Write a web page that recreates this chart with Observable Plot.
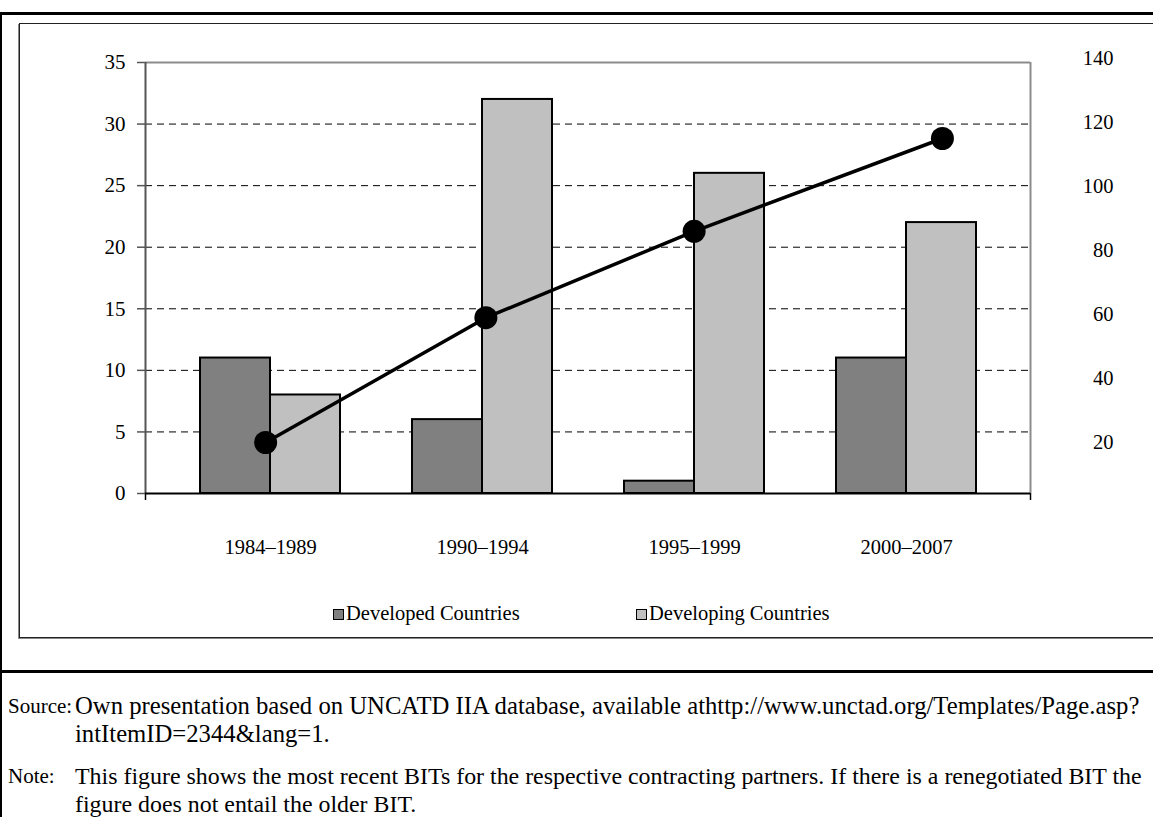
<!DOCTYPE html>
<html>
<head>
<meta charset="utf-8">
<script src="https://cdn.jsdelivr.net/npm/d3@7"></script>
<script src="https://cdn.jsdelivr.net/npm/@observablehq/plot@0.6"></script>
<style>
  body { margin: 0; background: #fff; }
  #page { position: relative; width: 1153px; height: 817px; overflow: hidden;
          font-family: "Liberation Serif", "Times New Roman", serif; color: #000; background: #fff; }
  .layer { position: absolute; left: 0; top: 0; }
  .hline { position: absolute; left: 0; width: 1153px; background: #000; }
  #vline { position: absolute; left: 0; top: 12px; width: 2px; height: 805px; background: #000; }
  #chartbox { position: absolute; left: 19px; top: 23px; width: 1200px; height: 613px;
              border: 1px solid #222; box-shadow: -1px 1px 0 #888; }
  .leg { position: absolute; top: 603px; font-size: 20.5px; line-height: 20px; white-space: nowrap; }
  .sw { display: inline-block; width: 9px; height: 9px; border: 1.5px solid #000; margin-right: 2px; vertical-align: 0px; }
  .note { position: absolute; left: 8px; white-space: nowrap; }
  .note .lab { display: inline-block; vertical-align: top; width: 67px; font-size: 21px; line-height: 27px; padding-top: 1px; }
  .note .body { display: inline-block; vertical-align: top; line-height: 28px; }
</style>
</head>
<body>
<div id="page">
  <div class="hline" style="top:12px;height:2.5px"></div>
  <div id="vline"></div>
  <div id="chartbox"></div>
  <div class="hline" style="top:670px;height:2.5px"></div>
  <div id="layers"></div>
  <div id="legend"></div>
  <div id="notes"></div>
</div>
<script>
// ---------------- data ----------------
const periods = ["1984–1989", "1990–1994", "1995–1999", "2000–2007"];
const seriesNames = ["Developed Countries", "Developing Countries"];
const seriesColors = ["#808080", "#c0c0c0"];
const developed = [11, 6, 1, 11];
const developing = [8, 32, 26, 22];
// line series (right axis) and its horizontal positions on a hidden year axis
const lineValues = [20, 59, 86, 115];
const lineYears = [1986.5, 1992, 1997.2, 2003.4];
const leftTicks = [0, 5, 10, 15, 20, 25, 30, 35];
const gridTicks = [5, 10, 15, 20, 25, 30];
const rightTicks = [20, 40, 60, 80, 100, 120, 140];
const sourceLines = ["Own presentation based on UNCATD IIA database, available athttp://www.unctad.org/Templates/Page.asp?",
                     "intItemID=2344&lang=1."];
const noteLines = ["This figure shows the most recent BITs for the respective contracting partners. If there is a renegotiated BIT the",
                   "figure does not entail the older BIT."];

// ---------------- layout ----------------
const W = 1153, H = 660;
const ML = 145, MR = 123, MT = 62, MB = 167;
const leftDomain = [0, 35];
const rightDomain = [0, 140];
const rightRange = [506, 58];
const lineXDomain = [1983.5, 2005.6];
const font = {fontFamily: "Liberation Serif, Times New Roman, serif", fontSize: "20.5px", background: "transparent", overflow: "visible", color: "#000"};
const dims = {width: W, height: H, marginLeft: ML, marginRight: MR, marginTop: MT, marginBottom: MB, style: font};

const barRows = periods.flatMap((p, i) => [
  {period: p, series: seriesNames[0], value: developed[i]},
  {period: p, series: seriesNames[1], value: developing[i]}
]);
const lineRows = lineValues.map((v, i) => ({x: lineYears[i], v}));

// layer 0: grid, frame, left axis
const back = Plot.plot({
  ...dims,
  x: {type: "linear", domain: lineXDomain, axis: null},
  y: {domain: leftDomain, axis: null},
  marks: [
    Plot.ruleY(gridTicks, {stroke: "#000", strokeWidth: 1, strokeDasharray: "7,5"}),
    Plot.ruleY([leftDomain[1]], {stroke: "#8c8c8c", strokeWidth: 2}),
    Plot.ruleX([lineXDomain[1]], {stroke: "#8c8c8c", strokeWidth: 2}),
    Plot.ruleX([lineXDomain[0]], {stroke: "#555", strokeWidth: 2}),
    Plot.axisY({ticks: leftTicks, tickSize: 8, tickPadding: 12, stroke: "#555", strokeWidth: 1.5, fill: "#000", fontSize: 21, label: null}),
    Plot.axisX({ticks: lineXDomain, tickSize: 7, tickFormat: () => "", stroke: "#000", strokeWidth: 1.5, label: null}),
    Plot.ruleY([0], {stroke: "#000", strokeWidth: 2})
  ]
});

// layer 1: bars
const bars = Plot.plot({
  ...dims,
  fx: {domain: periods, paddingInner: 0, paddingOuter: 0.0775, label: null, axis: "bottom", tickSize: 0, tickPadding: 46},
  x: {domain: seriesNames, paddingInner: 0, paddingOuter: 0.5, axis: null},
  y: {domain: leftDomain, axis: null},
  color: {domain: seriesNames, range: seriesColors},
  marks: [
    Plot.barY(barRows, {fx: "period", x: "series", y: "value", fill: "series", stroke: "#000", strokeWidth: 2})
  ]
});

// layer 2: line + right axis
const front = Plot.plot({
  ...dims,
  x: {type: "linear", domain: lineXDomain, axis: null},
  y: {domain: rightDomain, range: rightRange, axis: null},
  marks: [
    Plot.line(lineRows, {x: "x", y: "v", stroke: "#000", strokeWidth: 3.5}),
    Plot.dot(lineRows, {x: "x", y: "v", r: 11.5, fill: "#000"}),
    Plot.axisY({anchor: "right", ticks: rightTicks, tickSize: 0, tickPadding: 83, textAnchor: "end", label: null})
  ]
});

const layers = document.getElementById("layers");
for (const el of [back, bars, front]) {
  const d = document.createElement("div");
  d.className = "layer";
  d.appendChild(el);
  layers.appendChild(d);
}

// legend
const legend = document.getElementById("legend");
const legLeft = [333, 636];
seriesNames.forEach((name, i) => {
  const item = document.createElement("div");
  item.className = "leg";
  item.style.left = legLeft[i] + "px";
  const sw = document.createElement("span");
  sw.className = "sw";
  sw.style.background = seriesColors[i];
  item.appendChild(sw);
  item.appendChild(document.createTextNode(name));
  legend.appendChild(item);
});

// notes
const notes = document.getElementById("notes");
function block(label, lines, top, size) {
  const d = document.createElement("div");
  d.className = "note";
  d.style.top = top + "px";
  const l = document.createElement("span");
  l.className = "lab"; l.textContent = label;
  const b = document.createElement("span");
  b.className = "body"; b.style.fontSize = size + "px";
  b.innerHTML = lines.map(s => s.replace(/&/g, "&amp;")).join("<br>");
  d.appendChild(l); d.appendChild(b);
  notes.appendChild(d);
}
block("Source:", sourceLines, 692, 24.7);
block("Note:", noteLines, 762, 23.9);
</script>
</body>
</html>
